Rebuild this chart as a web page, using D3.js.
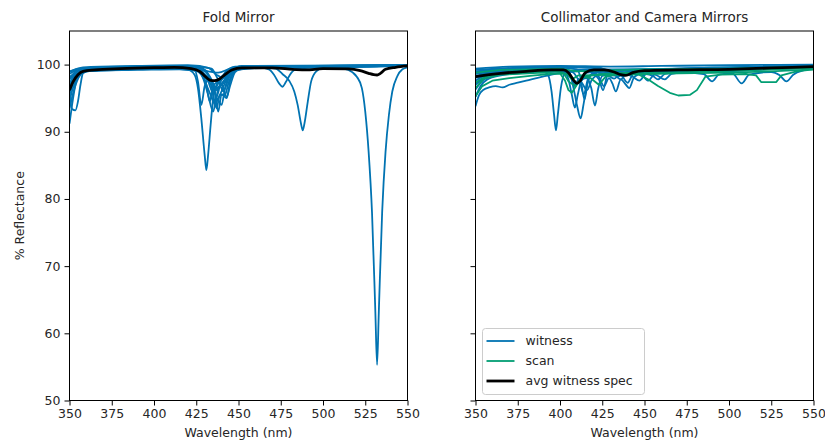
<!DOCTYPE html>
<html>
<head>
<meta charset="utf-8">
<script src="https://cdn.jsdelivr.net/npm/d3@7"></script>
<style>
  html, body { margin: 0; padding: 0; background: #fff; }
  svg text { font-family: "DejaVu Sans", sans-serif; fill: #262626; }
</style>
</head>
<body>
<div id="chart"></div>
<script>
// ── data ──────────────────────────────────────────────────────────
const xTicks = [350, 375, 400, 425, 450, 475, 500, 525, 550]
const yTicks = [50, 60, 70, 80, 90, 100]
const panelTitles = ['Fold Mirror', 'Collimator and Camera Mirrors']
const legendLabels = ['witness', 'scan', 'avg witness spec']

// fold mirror witness spectra: [wavelength nm, % reflectance]
const foldWitness = [
  [[350,98.2],[355,98.9],[362,99.3],[380,99.5],[400,99.7],[415,99.7],[425,99.5],[432,99.0],[438,98.8],[445,99.4],[455,99.7],[480,99.8],[505,99.7],[515,99.2],[520,98.2],[523,96.5],[525,93],[527,87],[529,78],[531,63],[532,55.3],[533,63],[535,78],[537,87],[539,92.5],[541,96],[544,98.3],[547,99.3],[550,99.6]],
  [[350,96.8],[354,98.5],[358,99.1],[370,99.3],[390,99.5],[410,99.6],[420,99.3],[424,98.5],[426,96.5],[428,92],[430,86.5],[431,84.3],[432,86.5],[433.5,91],[435,95],[437,97],[440,98.2],[445,99.0],[455,99.5],[480,99.6],[520,99.7],[550,99.8]],
  [[350,95.5],[353,97.8],[357,99.0],[370,99.3],[400,99.6],[420,99.5],[428,99.0],[433,97.8],[437,96.5],[441,97.5],[446,99.2],[460,99.6],[472,99.4],[476,98.6],[480,97.6],[483,96],[485,94],[487,91.2],[488,90.2],[489,91.2],[491,94.5],[493,97.5],[496,99],[500,99.5],[520,99.7],[550,99.8]],
  [[350,97.2],[354,98.7],[360,99.2],[380,99.4],[405,99.6],[422,99.4],[428,98.5],[433,95.8],[436,94.2],[439,95.5],[443,97.8],[448,99.3],[462,99.6],[468,99.3],[471,98.5],[474,97.2],[476,96.7],[478,97.4],[481,98.7],[485,99.4],[500,99.6],[550,99.8]],
  [[350,91.2],[352,94.8],[354,97.6],[356,98.6],[360,99.0],[380,99.3],[410,99.5],[425,99.2],[429,98],[432,95.5],[435,93.0],[437,95],[440,94],[442,96.5],[446,98.8],[455,99.6],[500,99.7],[550,99.8]],
  [[350,95.8],[351.5,93.4],[353.5,93.2],[355,94.5],[356.5,97],[358,98.7],[362,99.1],[380,99.3],[410,99.5],[426,99.3],[430,98.2],[434,96.8],[437,93.5],[439,95.5],[442,95.5],[444,97.2],[448,99.1],[460,99.6],[550,99.8]],
  [[350,93.5],[353,96.5],[356,98.3],[360,99.0],[385,99.4],[415,99.6],[424,99.3],[426,97.5],[428,94],[430,96.8],[433,98],[436,96],[438,93],[440,95.6],[443,95],[445,97.5],[449,99.2],[470,99.6],[550,99.9]],
  [[350,98.6],[355,99.2],[370,99.5],[400,99.8],[425,99.7],[430,99.2],[434,97.8],[437,96.2],[440,97],[443,95.2],[445,96.8],[448,98.9],[455,99.7],[550,99.9]],
  [[350,97.9],[354,99.0],[365,99.4],[400,99.6],[428,99.5],[432,98.5],[435,97],[438,97.5],[441,96],[444,97.8],[447,99.3],[470,99.7],[550,99.9]],
  [[350,94.6],[352,96.5],[355,98.2],[359,99.0],[380,99.2],[405,99.4],[427,99.1],[431,97],[433,94.5],[435,96.5],[437,95.2],[440,97.8],[444,98.6],[450,99.4],[500,99.6],[550,99.8]],
  [[350,99.0],[356,99.4],[380,99.7],[420,99.8],[432,99.5],[437,98.5],[441,98.0],[445,99],[452,99.8],[550,99.9]],
  [[350,96.2],[353,98.2],[357,99.1],[380,99.4],[420,99.6],[430,99.0],[434,97.3],[436,93.8],[438,96.5],[441,97.2],[446,99],[460,99.6],[550,99.8]],
  [[350,97.8],[356,98.9],[365,99.1],[390,99.2],[415,99.3],[428,98.9],[432,97.5],[435,95.8],[438,97.2],[442,98.2],[447,99.4],[470,99.6],[550,99.8]],
  [[350,98.9],[358,99.6],[390,99.8],[420,99.9],[434,99.4],[439,97.6],[442,98.8],[448,99.7],[550,99.9]]
]

const foldAvg = [[350,96.2],[352,97.4],[355,98.5],[358,99.0],[365,99.2],[380,99.4],[400,99.55],[412,99.6],[422,99.4],[427,99.0],[430,98.3],[433,97.7],[436,97.6],[439,97.9],[442,98.5],[446,99.2],[452,99.5],[470,99.5],[482,99.3],[490,99.2],[500,99.4],[515,99.35],[522,99.1],[527,98.7],[530,98.5],[532,98.45],[534,98.7],[537,99.3],[543,99.6],[550,99.8]]

// collimator / camera witness spectra
const camWitness = [
  [[350,93.8],[352,95.4],[355,96.3],[358,96.6],[362,96.8],[366,96.6],[370,97.0],[375,97.3],[380,97.6],[388,98.1],[395,98.5],[402,98.8],[410,99.0],[430,99.2],[460,99.3],[500,99.4],[550,99.6]],
  [[350,98.2],[360,98.9],[380,99.1],[390,99.0],[393,98.4],[395,96],[396.5,92.5],[397.6,90.2],[398.7,92.5],[400.5,96.5],[403,98.7],[410,99.2],[440,99.3],[550,99.7]],
  [[350,97.6],[358,98.6],[380,99.0],[402,99.2],[406,98.5],[408,96.5],[410,94],[412.2,92],[414,94.2],[416,97],[419,98.6],[425,99.0],[440,99.1],[550,99.6]],
  [[350,96.3],[355,97.8],[365,98.5],[385,98.9],[402,99.0],[405,97.8],[407,95.5],[408.8,93.6],[410.5,95.5],[413,97.8],[416,98.0],[418.5,96.5],[420.7,93.9],[422.5,96.3],[425,98.3],[432,98.6],[440,98.7],[460,98.9],[500,99.2],[550,99.5]],
  [[350,98.8],[365,99.3],[400,99.5],[410,99.3],[412,98.2],[414.5,94.8],[416.5,97.5],[419,98.6],[423,97.8],[425.5,96.2],[428,98.4],[433,99.0],[437,98.2],[440,97.3],[443,98.5],[450,99.2],[550,99.8]],
  [[350,99.2],[380,99.6],[400,99.7],[425,99.4],[432,98.6],[436,97.8],[439,98.6],[443,98.2],[447,97.6],[451,98.6],[455,98.3],[458,97.8],[462,98.6],[470,98.9],[485,98.6],[490,97.5],[494,98.5],[502,98.7],[507.5,97.2],[512,98.5],[525,98.9],[530,98.4],[534,97.5],[538,98.5],[545,99.2],[550,99.5]],
  [[350,95.2],[353,96.8],[357,97.8],[365,98.4],[380,98.8],[400,99.0],[406,98.4],[409,97.0],[412,97.5],[416,96.2],[419,97.8],[425,98.7],[435,98.9],[448,98.6],[452,97.6],[456,98.5],[462,97.8],[466,98.6],[480,99.0],[550,99.5]],
  [[350,99.4],[370,99.7],[400,99.8],[430,99.7],[460,99.8],[500,99.9],[550,100.0]],
  [[350,98.6],[370,99.2],[400,99.4],[408,98.8],[412,97.5],[416,98.8],[430,99.0],[440,98.6],[450,99.1],[480,99.4],[505,99.2],[515,99.5],[550,99.8]],
  [[350,97.0],[356,98.2],[365,98.8],[390,99.2],[405,99.0],[409,96.8],[411,97.9],[414,95.6],[417,98.2],[422,98.8],[435,98.3],[440,98.9],[470,99.2],[520,99.5],[550,99.7]],
  [[350,98.0],[362,98.8],[395,99.1],[418,99.0],[423,98.2],[426,96.8],[429,98.0],[431,97.2],[433,96.0],[436,97.8],[439,97.0],[441,96.5],[444,98.2],[452,98.9],[475,99.1],[500,99.0],[520,99.3],[550,99.6]],
  [[350,99.0],[370,99.4],[400,99.6],[424,99.5],[428,98.6],[432,97.9],[436,98.7],[445,98.9],[470,99.4],[500,99.6],[550,99.8]]
]

// collimator / camera scans
const camScan = [
  [[350,95.3],[354,96.8],[360,97.6],[370,98.0],[385,98.4],[400,98.7],[403,97.6],[405,96.2],[407,95.8],[410,97.0],[414,98.2],[425,98.6],[440,98.8],[446,98.6],[452,97.8],[458,96.8],[465,95.8],[470,95.4],[477,95.5],[481,96.2],[486,98.2],[495,98.5],[510,98.6],[516,98.4],[519,97.4],[528,97.4],[531,98.4],[540,99.0],[550,99.3]],
  [[350,97.3],[356,98.3],[370,98.8],[395,99.1],[402,98.8],[405,97.5],[409,96.8],[413,98.2],[418,98.0],[423,97.0],[427,98.2],[435,98.6],[460,98.8],[490,99.0],[520,99.2],[550,99.5]],
  [[350,98.8],[365,99.2],[400,99.4],[410,99.0],[420,99.1],[450,99.3],[500,99.4],[550,99.7]],
  [[350,96.5],[355,97.9],[365,98.5],[390,98.8],[404,98.6],[407,97.8],[411,98.4],[440,98.5],[470,98.7],[500,98.8],[525,99.0],[550,99.3]]
]

const camAvg = [[350,98.2],[355,98.4],[365,98.7],[380,99.0],[395,99.2],[402,99.2],[405,98.8],[408,97.7],[410,97.2],[412,97.6],[415,98.8],[420,99.2],[426,99.2],[432,98.9],[436,98.5],[439,98.4],[443,98.8],[450,99.1],[470,99.2],[500,99.3],[525,99.5],[550,99.7]]

// ── layout ───────────────────────────────────────────────────────
const WIDTH = 825, HEIGHT = 442
const TOP = 31, BOTTOM = 400.5
const PANELS = [
  { left: 69.5,  right: 407.5, witness: foldWitness, scan: [], avg: foldAvg, yLabels: true },
  { left: 475.5, right: 813.5, witness: camWitness, scan: camScan, avg: camAvg, yLabels: false }
]
const BLUE = '#0173b2', GREEN = '#029e73'

const svg = d3.select('#chart').append('svg')
  .attr('width', WIDTH).attr('height', HEIGHT)

const y = d3.scaleLinear().domain([50, 105]).range([BOTTOM, TOP])

PANELS.forEach((p, i) => {
  const x = d3.scaleLinear().domain([350, 550]).range([p.left, p.right])
  const g = svg.append('g')

  const clipId = `clip${i}`
  svg.append('clipPath').attr('id', clipId)
    .append('rect').attr('x', p.left).attr('y', TOP)
    .attr('width', p.right - p.left).attr('height', BOTTOM - TOP)

  const line = d3.line().x(d => x(d[0])).y(d => y(d[1])).curve(d3.curveMonotoneX)
  const lineLin = d3.line().x(d => x(d[0])).y(d => y(d[1]))

  const gLines = g.append('g').attr('clip-path', `url(#${clipId})`)
  gLines.selectAll('.witness').data(p.witness).join('path')
    .attr('class', 'witness').attr('d', line)
    .attr('fill', 'none').attr('stroke', BLUE).attr('stroke-width', 1.8)
    .attr('stroke-linejoin', 'round')
  gLines.selectAll('.scan').data(p.scan).join('path')
    .attr('class', 'scan').attr('d', lineLin)
    .attr('fill', 'none').attr('stroke', GREEN).attr('stroke-width', 1.8)
    .attr('stroke-linejoin', 'round')
  gLines.append('path').datum(p.avg).attr('d', line)
    .attr('fill', 'none').attr('stroke', '#000').attr('stroke-width', 2.8)

  // ── axes ───────────────────────────────────────────────────────
  const xAxis = g.append('g').attr('transform', `translate(0,${BOTTOM})`)
    .call(d3.axisBottom(x).tickValues(xTicks).tickSize(5).tickPadding(4).tickSizeOuter(0))
  xAxis.select('.domain').remove()
  xAxis.selectAll('text').style('font-size', '12.5px').attr('fill', '#262626')

  const yAxis = g.append('g').attr('transform', `translate(${p.left},0)`)
    .call(d3.axisLeft(y).tickValues(yTicks).tickSize(5).tickPadding(4).tickSizeOuter(0)
      .tickFormat(p.yLabels ? d3.format('d') : () => ''))
  yAxis.select('.domain').remove()
  yAxis.selectAll('text').style('font-size', '12.5px').attr('fill', '#262626')

  g.append('rect').attr('x', p.left).attr('y', TOP)
    .attr('width', p.right - p.left).attr('height', BOTTOM - TOP)
    .attr('fill', 'none').attr('stroke', '#000').attr('stroke-width', 1)

  g.append('text').attr('x', (p.left + p.right) / 2).attr('y', 22)
    .attr('text-anchor', 'middle').style('font-size', '13.5px')
    .text(panelTitles[i])

  g.append('text').attr('x', (p.left + p.right) / 2).attr('y', 437)
    .attr('text-anchor', 'middle').style('font-size', '12.5px')
    .text('Wavelength (nm)')

  if (p.yLabels) {
    g.append('text').attr('transform', 'rotate(-90)')
      .attr('x', -(TOP + BOTTOM) / 2).attr('y', 24)
      .attr('text-anchor', 'middle').style('font-size', '12.5px')
      .text('% Reflectance')
  }
})

// ── legend ───────────────────────────────────────────────────────
const legend = svg.append('g').attr('transform', 'translate(482.5,328.5)')
legend.append('rect').attr('width', 162).attr('height', 66).attr('rx', 3)
  .attr('fill', '#fff').attr('fill-opacity', 0.8).attr('stroke', '#ccc')
const legendStyles = [
  { color: BLUE, w: 1.8 }, { color: GREEN, w: 1.8 }, { color: '#000', w: 2.8 }
]
legendLabels.forEach((lab, i) => {
  const yy = 12.5 + i * 20
  legend.append('line').attr('x1', 4).attr('x2', 32).attr('y1', yy).attr('y2', yy)
    .attr('stroke', legendStyles[i].color).attr('stroke-width', legendStyles[i].w)
  legend.append('text').attr('x', 43).attr('y', yy).attr('dy', '0.35em')
    .style('font-size', '12.5px').text(lab)
})
</script>
</body>
</html>
